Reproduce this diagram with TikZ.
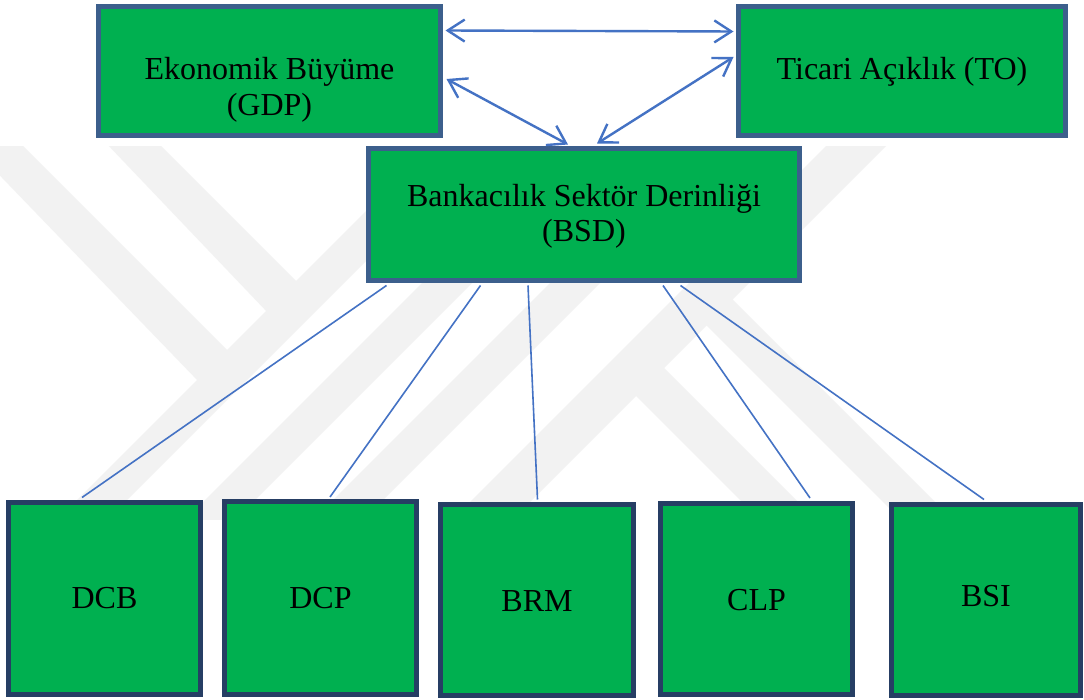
\documentclass[tikz,border=0pt]{standalone}
\usepackage{fontspec}
\setmainfont{Liberation Serif}
\usetikzlibrary{arrows.meta,calc}
\definecolor{boxgreen}{RGB}{0,176,80}
\definecolor{topedge}{RGB}{60,95,140}
\definecolor{botedge}{RGB}{38,62,100}
\definecolor{linkblue}{RGB}{68,114,196}
\definecolor{wmark}{RGB}{242,242,242}
\begin{document}
\begin{tikzpicture}[x=1pt,y=-1pt,
  topbox/.style={draw=topedge, fill=boxgreen, line width=5pt, inner sep=0pt},
  botbox/.style={draw=botedge, fill=boxgreen, line width=5pt, inner sep=0pt},
  lbl/.style={anchor=base, font=\fontsize{32}{36}\selectfont, inner sep=0pt},
  twoway/.style={draw=linkblue, line width=2.4pt, {Straight Barb[length=17pt,width=22pt]}-{Straight Barb[length=17pt,width=22pt]}},
  branch/.style={draw=linkblue, line width=1.6pt},
  band/.style={fill=wmark, draw=none}]
\useasboundingbox (0,0) rectangle (1084,700);
\fill[white] (0,0) rectangle (1084,700);
% watermark
\begin{scope}
\clip (0,147) rectangle (1084,519);
\path[band] (477,100) -- (527,100) -- (67,560) -- (17,560) -- cycle;
\path[band] (-73,100) -- (-23,100) -- (230,353) -- (200,383) -- cycle;
\path[band] (65,100) -- (115,100) -- (299,284) -- (269,314) -- cycle;
\path[band] (605,100) -- (655,100) -- (195,560) -- (145,560) -- cycle;
\path[band] (733,100) -- (783,100) -- (323,560) -- (273,560) -- cycle;
\path[band] (872,100) -- (932,100) -- (472,560) -- (412,560) -- cycle;
\path[band] (625,385) -- (653,357) -- (856,560) -- (800,560) -- cycle;
\path[band] (696,315) -- (722,289) -- (993,560) -- (941,560) -- cycle;
\end{scope}
% boxes
\node[topbox, minimum width=342pt, minimum height=129pt] (gdp) at (269.5,71) {};
\node[topbox, minimum width=327pt, minimum height=129pt] (to) at (902,71) {};
\node[topbox, minimum width=431pt, minimum height=132pt] (bsd) at (584,214.5) {};
\node[botbox, minimum width=192pt, minimum height=192pt] (dcb) at (104.5,598.5) {};
\node[botbox, minimum width=192pt, minimum height=193pt] (dcp) at (320.5,598) {};
\node[botbox, minimum width=193pt, minimum height=191pt] (brm) at (537,600) {};
\node[botbox, minimum width=192pt, minimum height=191pt] (clp) at (756.5,599) {};
\node[botbox, minimum width=189pt, minimum height=191pt] (bsi) at (986,600) {};
% texts
\node[lbl] (gdpa) at (269.5,80) {Ekonomik Büyüme};
\node[lbl] (gdpb) at (269.5,116) {(GDP)};
\node[lbl] (toa) at (902,79.5) {Ticari Açıklık (TO)};
\node[lbl] (bsda) at (584,206.5) {Bankacılık Sektör Derinliği};
\node[lbl] (bsdb) at (584,242) {(BSD)};
\node[lbl] (dcbt) at (104.5,608) {DCB};
\node[lbl] (dcpt) at (320.5,608) {DCP};
\node[lbl] (brmt) at (537,611) {BRM};
\node[lbl] (clpt) at (756.5,610) {CLP};
\node[lbl] (bsit) at (986,606) {BSI};
% connectors
\draw[twoway] ($(gdp.north east)+(2.5,26.5)$) -- ($(to.north west)+(-2.5,27.5)$);
\draw[twoway] ($(gdp.east)+(3.5,8)$) -- ($(bsd.north)+(-16,-1.5)$);
\draw[twoway] ($(to.west)+(-2.5,-14)$) -- ($(bsd.north)+(13,-2.5)$);
\draw[branch] ($(bsd.south)+(-197.5,2.5)$) -- ($(dcb.north)+(-22.5,-2.5)$);
\draw[branch] ($(bsd.south)+(-103.5,2.5)$) -- ($(dcp.north)+(9.5,-2)$);
\draw[branch] ($(bsd.south)+(-56,2.5)$) -- ($(brm.north)+(0.5,-2.5)$);
\draw[branch] ($(bsd.south)+(79,2.5)$) -- ($(clp.north)+(53.5,-3)$);
\draw[branch] ($(bsd.south)+(96.5,2.5)$) -- ($(bsi.north)+(-2,-2.5)$);
\end{tikzpicture}
\end{document}
